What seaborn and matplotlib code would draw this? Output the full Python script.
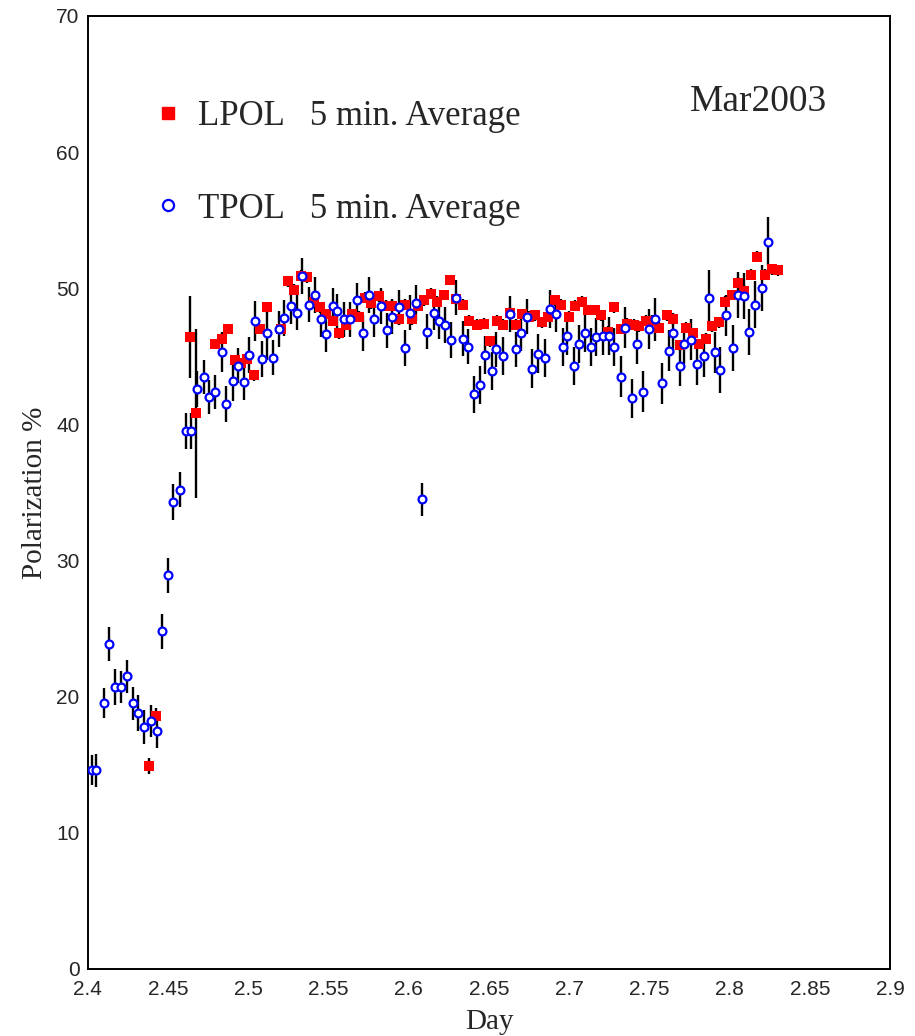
import numpy as np
import pandas as pd
import matplotlib
matplotlib.use('Agg')
import matplotlib.pyplot as plt
from matplotlib.lines import Line2D
from matplotlib.ticker import MultipleLocator, FormatStrFormatter, FuncFormatter
import seaborn as sns

# LPOL 5 min. average (red squares)
lpol_day = [2.4382, 2.4422, 2.4634, 2.4673, 2.4794, 2.4833, 2.4873, 2.4914, 2.4954, 2.4991,
            2.5035, 2.5074, 2.5114, 2.5203, 2.5245, 2.5284, 2.5326, 2.5367, 2.5407, 2.5446,
            2.5486, 2.5526, 2.5565, 2.5607, 2.5646, 2.5688, 2.5727, 2.5766, 2.5814, 2.5856,
            2.5895, 2.5937, 2.5976, 2.6018, 2.6057, 2.6097, 2.6137, 2.6175, 2.6217, 2.6257,
            2.6296, 2.6338, 2.6375, 2.6427, 2.6467, 2.6508, 2.6548, 2.6587, 2.6629, 2.6668,
            2.6708, 2.6749, 2.6789, 2.6829, 2.6868, 2.6909, 2.6949, 2.6997, 2.7038, 2.7078,
            2.7119, 2.7159, 2.7198, 2.7238, 2.7277, 2.7319, 2.7358, 2.7400, 2.7437, 2.7479,
            2.7518, 2.7558, 2.7608, 2.7647, 2.7691, 2.7728, 2.7770, 2.7809, 2.7849, 2.7890,
            2.7930, 2.7971, 2.8011, 2.8051, 2.8090, 2.8132, 2.8171, 2.8221, 2.8260, 2.8300]
lpol_val = [14.9, 18.6, 46.4, 40.8, 45.9, 46.3, 47.0, 44.7, 44.5, 44.8,
            43.6, 47.0, 48.6, 47.0, 50.5, 49.9, 50.9, 50.8, 49.0, 48.6,
            48.1, 47.6, 46.7, 47.3, 48.1, 47.9, 49.3, 48.9, 49.4, 48.7,
            48.7, 47.7, 48.8, 47.7, 48.7, 49.1, 49.6, 49.0, 49.5, 50.6,
            49.2, 48.8, 47.6, 47.3, 47.4, 46.1, 47.6, 47.3, 48.2, 47.3,
            48.1, 47.9, 48.0, 47.5, 47.9, 49.1, 48.8, 47.9, 48.7, 49.0,
            48.4, 48.4, 48.0, 46.8, 48.6, 47.0, 47.4, 47.3, 47.2, 47.6,
            47.6, 47.1, 48.0, 47.7, 45.8, 47.1, 46.7, 45.9, 46.3, 47.2,
            47.5, 49.0, 49.5, 50.4, 49.8, 51.0, 52.3, 51.0, 51.4, 51.3]
lpol_err = [0.6, 0.6, 3.0, 6.2] + [0.4] * 86

# TPOL 5 min. average (blue open circles)
tpol_day = [2.4023, 2.4052, 2.4102, 2.4131, 2.4172, 2.4204, 2.4243, 2.4283, 2.4312, 2.4353,
            2.4391, 2.4432, 2.4461, 2.4501, 2.4532, 2.4574, 2.4613, 2.4642, 2.4682, 2.4721,
            2.4752, 2.4794, 2.4833, 2.4862, 2.4904, 2.4933, 2.4973, 2.5004, 2.5043, 2.5083,
            2.5114, 2.5153, 2.5193, 2.5222, 2.5264, 2.5305, 2.5336, 2.5378, 2.5415, 2.5455,
            2.5484, 2.5526, 2.5554, 2.5594, 2.5635, 2.5675, 2.5714, 2.5754, 2.5785, 2.5827,
            2.5866, 2.5895, 2.5937, 2.5976, 2.6007, 2.6047, 2.6080, 2.6115, 2.6155, 2.6186,
            2.6226, 2.6265, 2.6296, 2.6338, 2.6367, 2.6405, 2.6446, 2.6475, 2.6517, 2.6546,
            2.6587, 2.6629, 2.6668, 2.6700, 2.6739, 2.6768, 2.6807, 2.6847, 2.6878, 2.6918,
            2.6959, 2.6988, 2.7028, 2.7059, 2.7099, 2.7138, 2.7169, 2.7209, 2.7248, 2.7279,
            2.7319, 2.7350, 2.7390, 2.7421, 2.7460, 2.7499, 2.7537, 2.7580, 2.7620, 2.7649,
            2.7689, 2.7717, 2.7759, 2.7798, 2.7838, 2.7870, 2.7909, 2.7940, 2.7979, 2.8021,
            2.8050, 2.8090, 2.8121, 2.8160, 2.8200, 2.8241]
tpol_val = [14.6, 14.6, 19.5, 23.9, 20.7, 20.7, 21.5, 19.5, 18.8, 17.8,
            18.2, 17.5, 24.8, 28.9, 34.3, 35.2, 39.5, 39.5, 42.6, 43.5,
            42.0, 42.4, 45.3, 41.5, 43.2, 44.3, 43.1, 45.1, 47.6, 44.8,
            46.7, 44.9, 47.0, 47.8, 48.7, 48.2, 50.9, 48.8, 49.5, 47.7,
            46.6, 48.7, 48.3, 47.7, 47.7, 49.1, 46.7, 49.5, 47.7, 48.7,
            46.9, 47.9, 48.6, 45.6, 48.2, 48.9, 34.5, 46.8, 48.2, 47.6,
            47.3, 46.2, 49.3, 46.3, 45.7, 42.2, 42.9, 45.1, 43.9, 45.5,
            45.0, 48.1, 45.5, 46.7, 47.9, 44.1, 45.2, 44.9, 48.5, 48.1,
            45.7, 46.5, 44.3, 45.9, 46.7, 45.7, 46.4, 46.5, 46.5, 45.7,
            43.5, 47.1, 41.9, 45.9, 42.4, 47.0, 47.7, 43.0, 45.4, 46.7,
            44.3, 45.9, 46.2, 44.4, 45.0, 49.3, 45.3, 44.0, 48.0, 45.6,
            49.5, 49.4, 46.8, 48.8, 50.0, 53.4]
tpol_err = [1.1, 1.2, 1.1, 1.25, 1.3, 1.2, 1.2, 1.2, 1.3, 1.25,
            1.2, 1.3, 1.3, 1.3, 1.3, 1.3, 1.3, 1.3, 1.3, 1.25,
            1.25, 1.25, 1.45, 1.3, 1.5, 1.3, 1.3, 1.3, 1.45, 1.3,
            2.0, 1.3, 1.3, 1.3, 1.3, 1.3, 1.3, 1.3, 1.3, 1.3,
            1.3, 1.3, 1.3, 1.3, 1.3, 1.3, 1.3, 1.3, 1.3, 1.3,
            1.3, 1.3, 1.3, 1.35, 1.3, 1.3, 1.2, 1.3, 1.3, 1.3,
            1.3, 1.3, 1.3, 1.3, 1.3, 1.35, 1.4, 1.4, 1.4, 1.3,
            1.4, 1.3, 1.3, 1.3, 1.3, 1.4, 1.4, 1.4, 1.4, 1.3,
            1.4, 1.4, 1.4, 1.4, 1.4, 1.4, 1.4, 1.4, 1.4, 1.4,
            1.5, 1.5, 1.45, 1.5, 1.5, 1.5, 1.6, 1.5, 1.5, 1.5,
            1.5, 1.5, 1.5, 1.5, 1.5, 2.0, 1.5, 1.7, 1.5, 1.7,
            1.7, 1.7, 1.7, 1.7, 1.7, 1.8]

lpol = pd.DataFrame({'day': lpol_day, 'pol': lpol_val, 'err': lpol_err})
tpol = pd.DataFrame({'day': tpol_day, 'pol': tpol_val, 'err': tpol_err})

sns.set_style('white')
serif = ['Liberation Serif', 'DejaVu Serif']
sans = ['Liberation Sans', 'DejaVu Sans']
plt.rcParams['font.family'] = sans

fig = plt.figure(figsize=(9.15, 10.36), dpi=100)
ax = fig.add_axes([0.096, 0.0647, 0.877, 0.92])

# error bars
ax.errorbar(lpol['day'], lpol['pol'], yerr=lpol['err'], fmt='none',
            ecolor='black', elinewidth=1.7, capsize=0, zorder=1)
ax.errorbar(tpol['day'], tpol['pol'], yerr=tpol['err'], fmt='none',
            ecolor='black', elinewidth=1.7, capsize=0, zorder=1)

# markers
sns.scatterplot(data=lpol, x='day', y='pol', marker='s', s=42, color='#ff0000',
                edgecolor='#ff0000', linewidth=0, ax=ax, zorder=2)
sns.scatterplot(data=tpol, x='day', y='pol', marker='o', s=32, facecolor='white',
                edgecolor='#0000ff', linewidth=1.6, ax=ax, zorder=3)

ax.set_xlim(2.4, 2.9)
ax.set_ylim(0, 70)
ax.xaxis.set_major_locator(MultipleLocator(0.05))
ax.xaxis.set_minor_locator(MultipleLocator(0.01))
ax.yaxis.set_major_locator(MultipleLocator(10))
ax.yaxis.set_minor_locator(MultipleLocator(2))
ax.xaxis.set_major_formatter(FuncFormatter(lambda v, p: ('%.2f' % v).rstrip('0').rstrip('.')))
ax.yaxis.set_major_formatter(FormatStrFormatter('%d'))

ax.tick_params(axis='x', which='major', direction='in', length=18, width=1.2,
               labelsize=15, pad=8, top=False)
ax.tick_params(axis='x', which='minor', direction='in', length=9, width=1.0, top=False)
ax.tick_params(axis='y', which='major', direction='in', length=12, width=1.2,
               labelsize=15, pad=6, right=False)
ax.tick_params(axis='y', which='minor', direction='in', length=6, width=1.0, right=False)
for sp in ax.spines.values():
    sp.set_color('black')
    sp.set_linewidth(1.4)

ax.set_xlabel('Day', fontsize=21, family=serif, labelpad=7)
ax.set_ylabel('Polarization %', fontsize=21, family=serif, labelpad=6)

# legend
handles = [Line2D([], [], marker='s', linestyle='none', color='#ff0000', markersize=8),
           Line2D([], [], marker='o', linestyle='none', markerfacecolor='white',
                  markeredgecolor='#0000ff', markeredgewidth=1.6, markersize=8)]
ax.legend(handles, ['LPOL   5 min. Average', 'TPOL   5 min. Average'],
          loc='upper left', bbox_to_anchor=(0.061, 0.93), frameon=False,
          borderpad=0, labelspacing=1.72, handletextpad=0.45, handlelength=0.8,
          prop={'family': serif, 'size': 25})

ax.text(0.75, 0.91, 'Mar2003', transform=ax.transAxes, fontsize=27,
        family=serif, va='center', ha='left')

fig.savefig('out.png', dpi=100)
